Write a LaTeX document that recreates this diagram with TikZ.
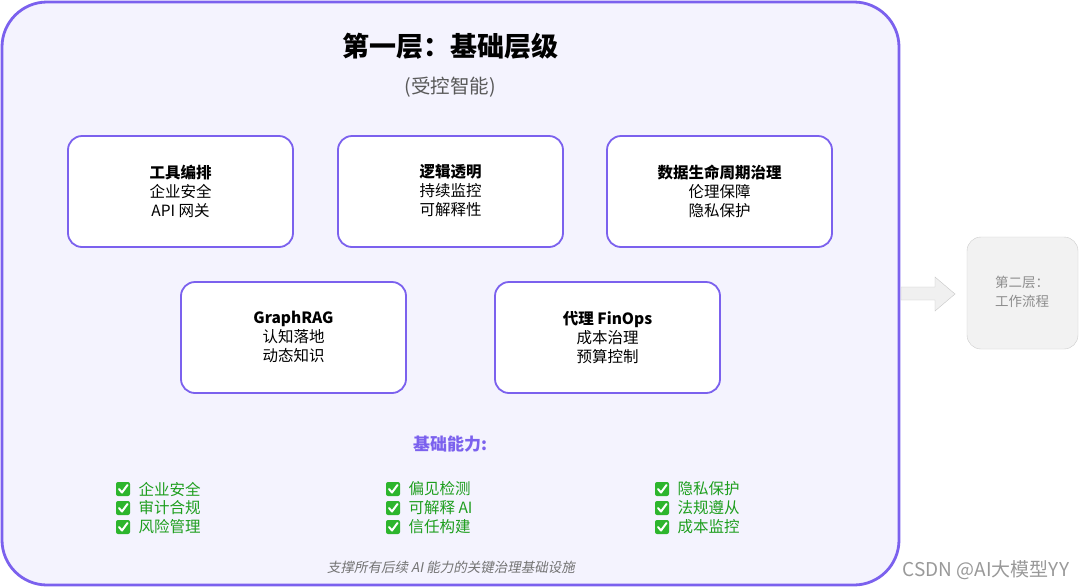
\documentclass[tikz,border=0pt]{standalone}
\usepackage{fontspec}
\setmainfont{Noto Sans CJK SC}
\newfontfamily\slfont[FakeSlant=0.2]{Noto Sans CJK SC}
\usetikzlibrary{shapes.arrows,calc}
\definecolor{pur}{HTML}{7B61EE}
\definecolor{bgp}{HTML}{F4F3FE}
\definecolor{gtx}{HTML}{1E9E1E}
\definecolor{gbx}{HTML}{2DB52D}
\begin{document}
\begin{tikzpicture}[x=1pt,y=-1pt,
 card/.style={draw=pur,line width=1.8pt,fill=white,rounded corners=14pt},
 ctext/.style={align=center,font=\fontsize{15.5}{19}\selectfont},
 chk/.style={anchor=west,text=gtx,font=\fontsize{15.5}{18}\selectfont},
]
\useasboundingbox (0,0) rectangle (1080,587);
\fill[white] (0,0) rectangle (1080,587);
\draw[draw=pur,fill=bgp,line width=2.8pt,rounded corners=45pt] (2,2) rectangle (899,585);
\node[font=\fontsize{27}{30}\selectfont\bfseries] (title) at (450,46) {第一层：基础层级};
\node[text=black!65,font=\fontsize{19.5}{22}\selectfont] (sub) at (450,87) {(受控智能)};
\foreach \n/\a/\b/\t in {c1/68/136/{\textbf{工具编排}\\企业安全\\API 网关},
  c2/338/136/{\textbf{逻辑透明}\\持续监控\\可解释性},
  c3/607/136/{\textbf{数据生命周期治理}\\伦理保障\\隐私保护},
  c4/181/282/{\textbf{GraphRAG}\\认知落地\\动态知识},
  c5/495/282/{\textbf{代理 FinOps}\\成本治理\\预算控制}}{
  \draw[card] (\a,\b) rectangle ++(225,111);
  \node[ctext] (\n) at (\a+112.5,\b+55) {\t};
}
\node[text=pur,font=\fontsize{17}{19}\selectfont\bfseries] (cap) at (450,444) {基础能力:};
\newcommand\ckbox[1]{%
  \fill[gbx,rounded corners=2pt] ($(#1)+(-7,-7)$) rectangle ($(#1)+(7,7)$);
  \draw[white,line width=2pt,line cap=round,line join=round] ($(#1)+(-4,0)$) -- ($(#1)+(-1,3.5)$) -- ($(#1)+(4.5,-4)$);}
\foreach \x/\la/\lb/\lc [count=\i] in {123/企业安全/审计合规/风险管理, 393/偏见检测/可解释 AI/信任构建, 662/隐私保护/法规遵从/成本监控}{
  \foreach \y/\l [count=\j] in {489/\la,508/\lb,527/\lc}{
    \coordinate (k\i\j) at (\x,\y);
    \ckbox{k\i\j}
    \node[chk] (t\i\j) at (\x+12,\y) {\l};
  }
}
\node[text=black!55,font=\fontsize{13.5}{15}\selectfont\slfont] (foot) at (451,567) {支撑所有后续 AI 能力的关键治理基础设施};
\draw[draw=black!20,fill=black!5,rounded corners=14pt] (967,237) rectangle (1078,349);
\node[align=left,text=black!45,font=\fontsize{13.5}{19}\selectfont] (l2) at (1022,292) {第二层：\\工作流程};
\draw[draw=black!22,fill=black!6] (901,287) -- (935,287) -- (935,277) -- (955,294) -- (935,311) -- (935,300) -- (901,300) -- cycle;
\node[text=black!40,font=\fontsize{19}{22}\selectfont] (wm) at (986,570) {CSDN @AI大模型YY};
\end{tikzpicture}
\end{document}
